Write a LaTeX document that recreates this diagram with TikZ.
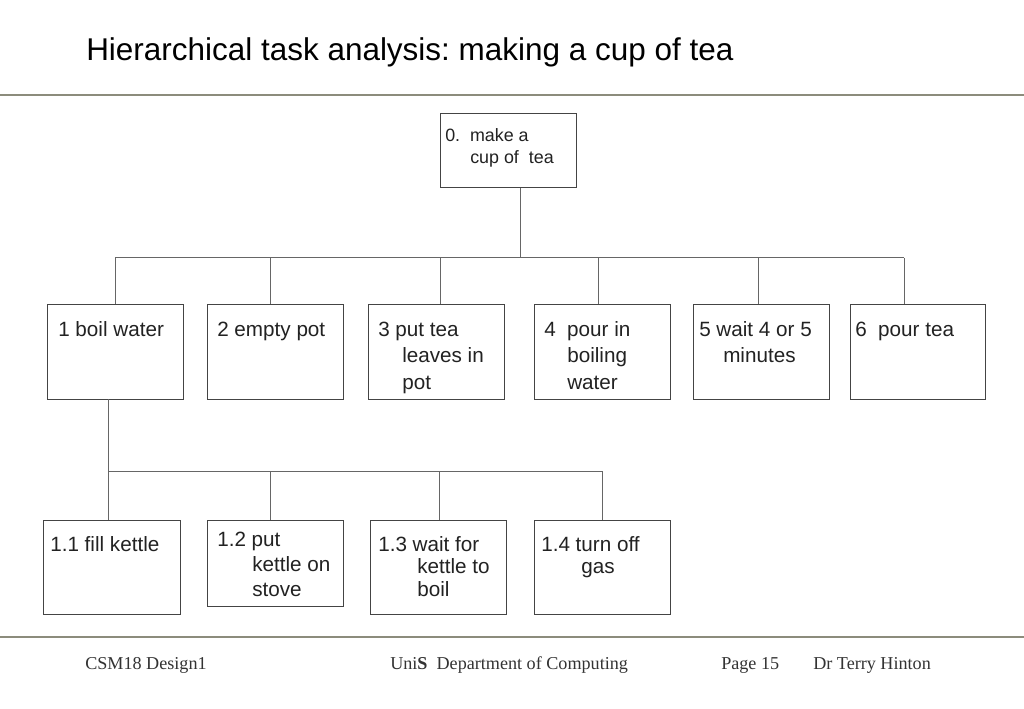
\documentclass[tikz,border=0pt]{standalone}
\usepackage{fontspec}
\setmainfont{Liberation Serif}
\setsansfont{Liberation Sans}
\frenchspacing
\definecolor{rulegrey}{HTML}{8C8C7C}
\definecolor{boxgrey}{HTML}{444444}
\definecolor{linkgrey}{HTML}{666666}
\definecolor{txt}{HTML}{222222}
\definecolor{foot}{HTML}{333333}
\begin{document}
\begin{tikzpicture}[x=0.75pt,y=-0.75pt,
  box/.style 2 args={draw=boxgrey,line width=0.75pt,inner sep=0pt,outer sep=0pt,
     minimum width=#1*0.75pt,minimum height=#2*0.75pt},
  link/.style={draw=linkgrey,line width=0.75pt},
  rulel/.style={draw=rulegrey,line width=1.5pt},
  btxt/.style={anchor=base west,inner sep=0pt,text=txt,font=\sffamily\fontsize{15.5}{18}\selectfont},
  stxt/.style={anchor=base west,inner sep=0pt,text=txt,font=\sffamily\fontsize{13.4}{15}\selectfont},
  ftxt/.style={anchor=base west,inner sep=0pt,text=foot,font=\rmfamily\fontsize{13.6}{16}\selectfont}]
\useasboundingbox[fill=white] (0,0) rectangle (1024,709);
% title and rules
\node[anchor=base west,inner sep=0pt,font=\sffamily\fontsize{23.6}{28}\selectfont] (title) at (86,61) {Hierarchical task analysis: making a cup of tea};
\coordinate (rtl) at (0,95); \coordinate (rtr) at (1024,95);
\coordinate (rbl) at (0,637); \coordinate (rbr) at (1024,637);
\draw[rulel] (rtl) -- (rtr);
\draw[rulel] (rbl) -- (rbr);
% boxes
\node[box={136}{74}] (b0) at (508,151) {};
\node[box={136}{95}] (b1) at (115,351.5) {};
\node[box={136}{95}] (b2) at (275,351.5) {};
\node[box={136}{95}] (b3) at (436,351.5) {};
\node[box={136}{95}] (b4) at (602,351.5) {};
\node[box={136}{95}] (b5) at (761,351.5) {};
\node[box={135}{95}] (b6) at (917.5,351.5) {};
\node[box={137}{94}] (b11) at (111.5,567) {};
\node[box={136}{86}] (b12) at (275,563) {};
\node[box={136}{94}] (b13) at (438,567) {};
\node[box={136}{94}] (b14) at (602,567) {};
% level 1 connectors
\coordinate (j0) at (520,258);
\coordinate (busL) at (115,258); \coordinate (busR) at (904,258);
\draw[link] (b0.south -| j0) -- (j0);
\draw[link] (busL) -- (busR);
\coordinate (d1) at (115,258); \coordinate (d2) at (270,258);
\coordinate (d3) at (440,258); \coordinate (d4) at (598,258);
\coordinate (d5) at (758,258); \coordinate (d6) at (904,258);
\draw[link] (d1) -- (d1 |- b1.north);
\draw[link] (d2) -- (d2 |- b2.north);
\draw[link] (d3) -- (d3 |- b3.north);
\draw[link] (d4) -- (d4 |- b4.north);
\draw[link] (d5) -- (d5 |- b5.north);
\draw[link] (d6) -- (d6 |- b6.north);
% level 2 connectors
\coordinate (j1) at (108,471);
\coordinate (bus2R) at (602,471);
\draw[link] (b1.south -| j1) -- (j1);
\draw[link] (j1) -- (bus2R);
\coordinate (e1) at (108,471); \coordinate (e2) at (270,471);
\coordinate (e3) at (439,471); \coordinate (e4) at (602,471);
\draw[link] (e1) -- (e1 |- b11.north);
\draw[link] (e2) -- (e2 |- b12.north);
\draw[link] (e3) -- (e3 |- b13.north);
\draw[link] (e4) -- (e4 |- b14.north);
% texts
\node[stxt] (t0a) at (445,142) {0.\ \ make a};
\node[stxt] (t0b) at (470,164) {cup of\ \ tea};
\node[btxt] (t1) at (58,336) {1 boil water};
\node[btxt] (t2) at (217,336) {2 empty pot};
\node[btxt] (t3a) at (378,336) {3 put tea};
\node[btxt] (t3b) at (402,362.5) {leaves in};
\node[btxt] (t3c) at (402,389) {pot};
\node[btxt] (t4a) at (544,336) {4\ \ pour in};
\node[btxt] (t4b) at (567,362.5) {boiling};
\node[btxt] (t4c) at (567,389) {water};
\node[btxt] (t5a) at (699,336) {5 wait 4 or 5};
\node[btxt] (t5b) at (723,362.5) {minutes};
\node[btxt] (t6) at (855,336) {6\ \ pour tea};
\node[btxt] (t11) at (50,551) {1.1 fill kettle};
\node[btxt] (t12a) at (217,546) {1.2 put};
\node[btxt] (t12b) at (252,571) {kettle on};
\node[btxt] (t12c) at (252,596) {stove};
\node[btxt] (t13a) at (378,551) {1.3 wait for};
\node[btxt] (t13b) at (417,573.5) {kettle to};
\node[btxt] (t13c) at (417,596) {boil};
\node[btxt] (t14a) at (541,551) {1.4 turn off};
\node[btxt] (t14b) at (581,573.5) {gas};
% footer
\node[ftxt] (f1) at (85,669) {CSM18 Design1};
\node[ftxt] (f2) at (390,669) {Uni\textbf{S}\ \ Department of Computing};
\node[ftxt] (f3) at (721,669) {Page 15};
\node[ftxt] (f4) at (813,669) {Dr Terry Hinton};
\end{tikzpicture}
\end{document}
